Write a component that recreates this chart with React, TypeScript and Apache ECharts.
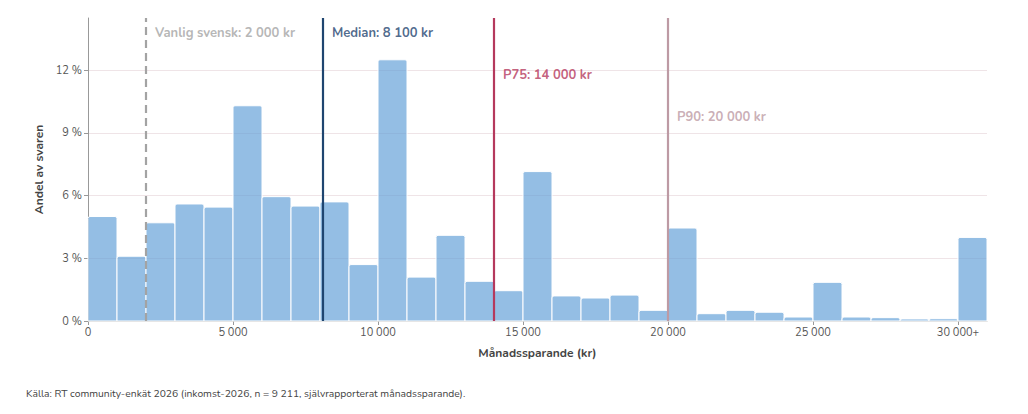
import React, { useEffect, useRef } from "react";
import * as echarts from "echarts";

const binStarts = [0, 1000, 2000, 3000, 4000, 5000, 6000, 7000, 8000, 9000, 10000, 11000, 12000, 13000, 14000, 15000, 16000, 17000, 18000, 19000, 20000, 21000, 22000, 23000, 24000, 25000, 26000, 27000, 28000, 29000, 30000];
const binWidth = 1000;
const shares = [5.0, 3.1, 4.7, 5.6, 5.45, 10.3, 5.95, 5.5, 5.7, 2.7, 12.5, 2.1, 4.1, 1.9, 1.45, 7.15, 1.2, 1.1, 1.24, 0.51, 4.45, 0.35, 0.51, 0.42, 0.19, 1.85, 0.19, 0.16, 0.1, 0.11, 4.0];

const refNames = ["Vanlig svensk", "Median", "P75", "P90"];
const refValues = [2000, 8100, 14000, 20000];
const refLabelY = [13.8, 13.8, 11.77, 9.78];
const refColors = ["#a3a3a3", "#1f4570", "#b5395d", "#bd9aa4"];
const refLineTypes = ["dashed", "solid", "solid", "solid"];

const xTicks = [0, 5000, 10000, 15000, 20000, 25000, 30000];
const yTicks = [0, 3, 6, 9, 12];

const FONT = 'Nunito, "Noto Sans", sans-serif';

const fmtNum = (v: number) => String(Math.round(v)).replace(/\B(?=(\d{3})+(?!\d))/g, " ");

export default function App() {
  const ref = useRef<HTMLDivElement>(null);
  useEffect(() => {
    if (!ref.current) return;
    const chart = echarts.init(ref.current, undefined, { renderer: "svg" });
    const histData = binStarts.map((s, i) => [s, s + binWidth, shares[i]]);
    const option: any = {
      animation: false,
      textStyle: { fontFamily: FONT },
      grid: { left: 88, right: 41, top: 18, bottom: 93 },
      xAxis: {
        type: "value",
        min: 0,
        max: 31000,
        interval: 5000,
        name: "Månadssparande (kr)",
        nameLocation: "middle",
        nameGap: 26,
        nameTextStyle: { fontFamily: FONT, fontSize: 12, fontWeight: "bold", color: "#444" },
        axisLine: { show: true, lineStyle: { color: "#cccccc", width: 1 } },
        axisTick: { show: true, length: 4, lineStyle: { color: "#999" } },
        axisLabel: {
          fontFamily: FONT,
          fontSize: 11,
          color: "#555",
          margin: 6,
          showMaxLabel: false,
          formatter: (v: number) => (xTicks.indexOf(v) < 0 ? "" : v === 30000 ? fmtNum(v) + "+" : fmtNum(v)),
        },
        splitLine: { show: false },
      },
      yAxis: {
        type: "value",
        min: 0,
        max: 14.5,
        interval: 3,
        name: "Andel av svaren",
        nameLocation: "middle",
        nameGap: 38,
        nameTextStyle: { fontFamily: FONT, fontSize: 12, fontWeight: "bold", color: "#444" },
        axisLine: { show: true, lineStyle: { color: "#999999", width: 1 } },
        axisTick: { show: true, length: 4, lineStyle: { color: "#999" } },
        axisLabel: {
          fontFamily: FONT,
          fontSize: 11,
          color: "#555",
          margin: 6,
          showMaxLabel: false,
          formatter: (v: number) => (yTicks.indexOf(v) < 0 ? "" : v + " %"),
        },
        splitLine: { show: true, showMaxLine: false, lineStyle: { color: "#efe4e7", width: 1 } },
      },
      series: [
        {
          type: "custom",
          data: histData,
          encode: { x: [0, 1], y: 2 },
          renderItem: (params: any, api: any) => {
            const x0 = api.value(0);
            const x1 = api.value(1);
            const v = api.value(2);
            const p0 = api.coord([x0, v]);
            const p1 = api.coord([x1, 0]);
            return {
              type: "rect",
              shape: { x: p0[0], y: p0[1], width: p1[0] - p0[0], height: p1[1] - p0[1], r: [2, 2, 0, 0] },
              style: { fill: "rgba(91,155,213,0.65)", stroke: "#ffffff", lineWidth: 1 },
            };
          },
          z: 2,
        },
        {
          type: "line",
          data: [],
          z: 3,
          markLine: {
            silent: true,
            symbol: "none",
            label: { show: false },
            data: refValues.map((v, i) => ({
              xAxis: v,
              lineStyle: {
                color: refColors[i],
                width: 2.2,
                type: refLineTypes[i] === "dashed" ? [8, 5] : "solid",
              },
            })),
          },
        },
        {
          type: "scatter",
          symbolSize: 0,
          z: 4,
          data: refValues.map((v, i) => ({
            value: [v, refLabelY[i]],
            label: {
              show: true,
              position: "right",
              distance: 9,
              formatter: refNames[i] + ": " + fmtNum(v) + " kr",
              color: refColors[i],
              fontFamily: FONT,
              fontSize: 13,
              fontWeight: "bold",
            },
          })),
        },
      ],
      graphic: [
        {
          type: "text",
          left: 26,
          top: 389,
          style: {
            text: "Källa: RT community-enkät 2026 (inkomst-2026, n = 9 211, självrapporterat månadssparande).",
            fontFamily: FONT,
            fontSize: 10.3,
            fill: "#444",
          },
        },
      ],
    };
    chart.setOption(option);
    return () => chart.dispose();
  }, []);
  return (
    <div
      ref={ref}
      style={{ position: "fixed", left: 0, top: 0, width: 1028, height: 414, background: "#fff" }}
    />
  );
}
